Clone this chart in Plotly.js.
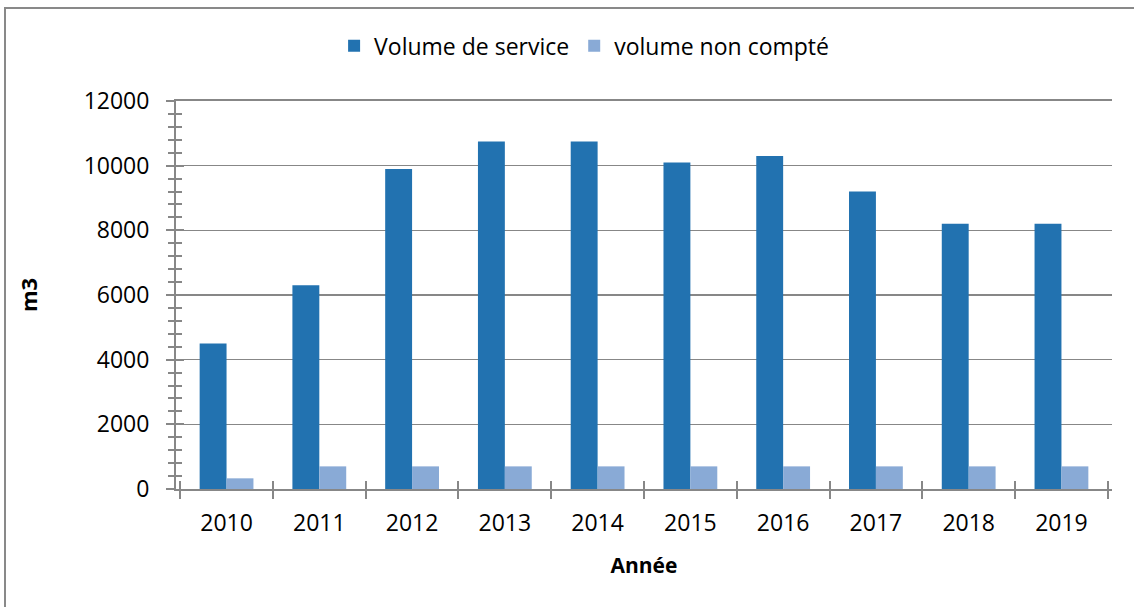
<!DOCTYPE html>
<html><head><meta charset="utf-8">
<script src="https://cdn.plot.ly/plotly-3.0.1.min.js"></script>
<style>
html,body{margin:0;padding:0;background:#fff;}
#wrap{position:relative;width:1134px;height:607px;overflow:hidden;}
#frame{position:absolute;left:4px;top:7px;width:1200px;height:700px;border-left:2px solid #898989;border-top:2px solid #898989;box-sizing:border-box;pointer-events:none;z-index:5;}
#chart{position:absolute;left:0;top:0;width:1134px;height:607px;}
</style></head>
<body><div id="wrap"><div id="chart"></div><div id="frame"></div></div>
<script>
const years = ['2010','2011','2012','2013','2014','2015','2016','2017','2018','2019'];
const volumeService = [4500, 6300, 9900, 10750, 10750, 10100, 10300, 9200, 8200, 8200];
const volumeNonCompte = [330, 700, 700, 700, 700, 700, 700, 700, 700, 700];
const seriesNames = ['Volume de service', 'volume non compté'];

const F = 'Open Sans, Noto Sans, sans-serif';
const axisCol = '#878787';

const traces = [
  {type:'bar', x:years, y:volumeService, name:seriesNames[0], marker:{color:'#2272B0'}},
  {type:'bar', x:years, y:volumeNonCompte, name:seriesNames[1], marker:{color:'#89AAD6'}},
  {type:'scatter', x:years, y:volumeService, xaxis:'x2', yaxis:'y2', mode:'markers', marker:{opacity:0}, showlegend:false, hoverinfo:'skip'}
];

const layout = {
  width:1134, height:607,
  margin:{l:176, r:22, t:101, b:118, autoexpand:false},
  paper_bgcolor:'#fff', plot_bgcolor:'#fff',
  font:{family:F, size:22, color:'#000'},
  barmode:'group', bargap:0.42, bargroupgap:0,
  showlegend:true,
  legend:{orientation:'h', x:0.436, xanchor:'center', y:1.142, yanchor:'middle', font:{size:23}, itemwidth:30, traceorder:'normal'},
  xaxis:{
    type:'category', showgrid:false, zeroline:false,
    showline:true, mirror:true, linecolor:axisCol, linewidth:2,
    ticks:'outside', tickson:'boundaries', ticklen:8, tickwidth:2, tickcolor:axisCol,
    ticklabelstandoff:12, automargin:true,
    tickfont:{size:23}, title:{text:'Année', font:{size:21, family:F, weight:'bold'}, standoff:22}
  },
  xaxis2:{
    type:'category', overlaying:'x', matches:'x', showgrid:false, zeroline:false, showline:false,
    ticks:'inside', tickson:'boundaries', ticklen:8, tickwidth:2, tickcolor:axisCol, showticklabels:false
  },
  yaxis:{
    range:[0,12000], dtick:2000, tickformat:'d', showgrid:true, gridcolor:axisCol, gridwidth:1.5,
    zeroline:false, showline:true, linecolor:axisCol, linewidth:2,
    ticks:'outside', ticklen:8, tickwidth:2, tickcolor:axisCol, ticklabelstandoff:12, automargin:true,
    minor:{dtick:400, ticks:'outside', ticklen:6, tickwidth:2, tickcolor:axisCol, showgrid:false},
    tickfont:{size:23}, title:{text:'m3', font:{size:22, family:F, weight:'bold'}, standoff:40}
  },
  yaxis2:{
    range:[0,12000], dtick:2000, overlaying:'y', showgrid:false, zeroline:false, showline:false,
    ticks:'inside', ticklen:8, tickwidth:2, tickcolor:axisCol, showticklabels:false,
    minor:{dtick:400, ticks:'inside', ticklen:6, tickwidth:2, tickcolor:axisCol, showgrid:false}
  }
};
Plotly.newPlot('chart', traces, layout, {displayModeBar:false, staticPlot:true});
</script></body></html>
